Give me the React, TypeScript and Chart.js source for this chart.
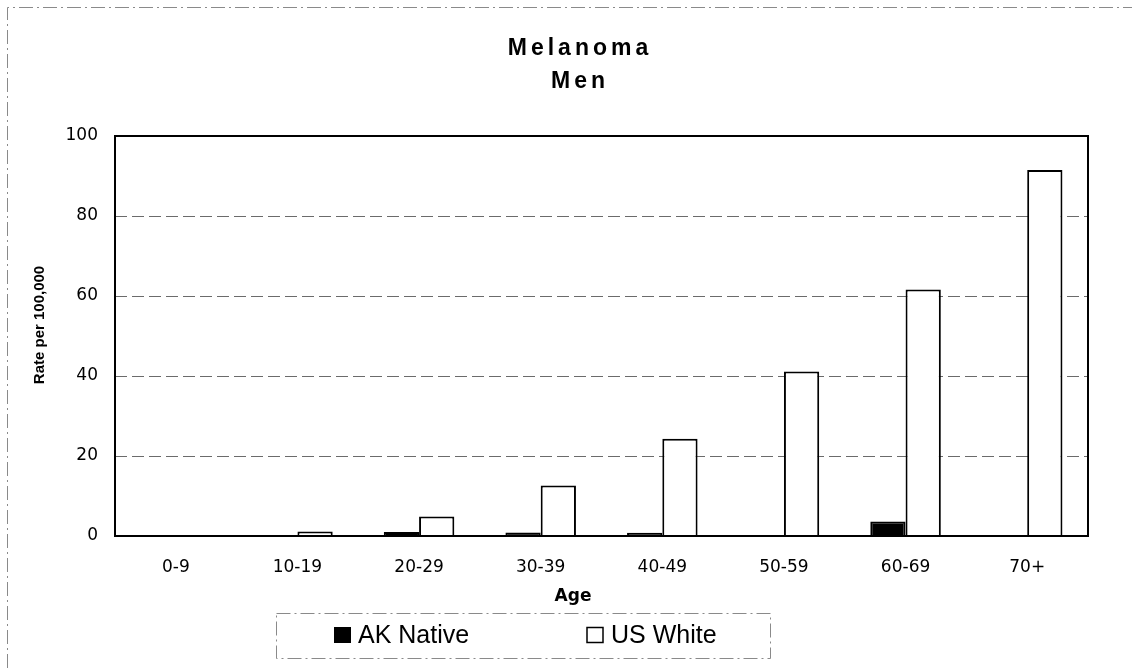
import React, { useEffect, useRef } from "react";
import { Chart, registerables } from "chart.js";

Chart.register(...registerables);

const categories = ["0-9", "10-19", "20-29", "30-39", "40-49", "50-59", "60-69", "70+"];
const akNative = [0, 0, 1.0, 0.9, 0.8, 0, 3.6, 0];
const usWhite = [0.1, 1.1, 4.9, 12.6, 24.3, 41.1, 61.6, 91.5];
const seriesNames = ["AK Native", "US White"];
const titleLines = ["Melanoma", "Men"];
const yTitle = "Rate per 100,000";
const xTitle = "Age";

const W = 1132;
const H = 668;

const decorPlugin = {
  id: "decor",
  beforeDatasetsDraw(chart: any) {
    const { ctx, chartArea, scales } = chart;
    const y = scales.y;
    ctx.save();
    ctx.strokeStyle = "#6b6b6b";
    ctx.lineWidth = 1;
    ctx.setLineDash([12, 5]);
    [20, 40, 60, 80].forEach((v) => {
      const py = Math.round(y.getPixelForValue(v)) + 0.5;
      ctx.beginPath();
      ctx.moveTo(chartArea.left, py);
      ctx.lineTo(chartArea.right, py);
      ctx.stroke();
    });
    ctx.restore();
  },
  afterDraw(chart: any) {
    const { ctx, chartArea } = chart;
    ctx.save();
    // outer dashed frame
    ctx.strokeStyle = "#8a8a8a";
    ctx.lineWidth = 1;
    ctx.setLineDash([14, 4, 2, 4]);
    ctx.beginPath();
    ctx.moveTo(7.5, H);
    ctx.lineTo(7.5, 7.5);
    ctx.lineTo(W, 7.5);
    ctx.stroke();
    ctx.setLineDash([]);

    // plot frame
    ctx.strokeStyle = "#000";
    ctx.lineWidth = 2;
    ctx.strokeRect(chartArea.left, chartArea.top, chartArea.right - chartArea.left, chartArea.bottom - chartArea.top);

    // title
    ctx.fillStyle = "#000";
    ctx.font = "bold 23px 'Liberation Sans', Arial, sans-serif";
    ctx.textAlign = "center";
    ctx.textBaseline = "alphabetic";
    (ctx as any).letterSpacing = "4px";
    ctx.fillText(titleLines[0], 580, 55);
    ctx.fillText(titleLines[1], 580, 88);
    (ctx as any).letterSpacing = "0px";

    // y title
    ctx.save();
    ctx.translate(44, 325);
    ctx.rotate(-Math.PI / 2);
    ctx.font = "bold 15px 'Liberation Sans', Arial, sans-serif";
    ctx.textAlign = "center";
    ctx.fillText(yTitle, 0, 0);
    ctx.restore();

    // x title
    ctx.font = "bold 17px 'DejaVu Sans', sans-serif";
    ctx.textAlign = "center";
    ctx.fillText(xTitle, 573, 601);

    // legend box
    ctx.strokeStyle = "#8a8a8a";
    ctx.lineWidth = 1;
    ctx.setLineDash([14, 4, 2, 4]);
    ctx.strokeRect(276.5, 613.5, 494, 45);
    ctx.setLineDash([]);

    ctx.fillStyle = "#000";
    ctx.fillRect(334, 627, 17, 16);
    ctx.strokeStyle = "#000";
    ctx.lineWidth = 1.5;
    ctx.strokeRect(587, 627.5, 16, 15);

    ctx.font = "25px 'Liberation Sans', Arial, sans-serif";
    ctx.textAlign = "left";
    ctx.fillText(seriesNames[0], 358, 643);
    ctx.fillText(seriesNames[1], 611, 643);
    ctx.restore();
  },
};

export default function App() {
  const ref = useRef<HTMLCanvasElement>(null);
  useEffect(() => {
    if (!ref.current) return;
    const chart = new Chart(ref.current, {
      type: "bar",
      data: {
        labels: categories,
        datasets: [
          {
            label: seriesNames[0],
            data: akNative,
            backgroundColor: "#000",
            borderColor: "#000",
            borderWidth: 2,
          },
          {
            label: seriesNames[1],
            data: usWhite,
            backgroundColor: "#fff",
            borderColor: "#000",
            borderWidth: 2,
          },
        ],
      },
      options: {
        responsive: false,
        animation: false,
        devicePixelRatio: 1,
        layout: { padding: { top: 136, right: 44, left: 0, bottom: 0 } },
        plugins: { legend: { display: false }, title: { display: false }, tooltip: { enabled: false } },
        datasets: { bar: { categoryPercentage: 0.58, barPercentage: 1.0 } },
        scales: {
          x: {
            grid: { display: false, drawTicks: false },
            border: { display: false },
            ticks: { color: "#000", padding: 21, font: { family: "'DejaVu Sans', sans-serif", size: 17 } },
            afterFit: (s: any) => { s.height = 132; },
          },
          y: {
            min: 0,
            max: 100,
            grid: { display: false, drawTicks: false },
            border: { display: false },
            ticks: { stepSize: 20, color: "#000", padding: 17, font: { family: "'DejaVu Sans', sans-serif", size: 17 } },
            afterFit: (s: any) => { s.width = 115; },
          },
        },
      },
      plugins: [decorPlugin],
    });
    return () => chart.destroy();
  }, []);
  return (
    <div style={{ position: "absolute", left: 0, top: 0, width: W, height: H, background: "#fff" }}>
      <canvas ref={ref} width={W} height={H} style={{ display: "block", width: W, height: H }} />
    </div>
  );
}
